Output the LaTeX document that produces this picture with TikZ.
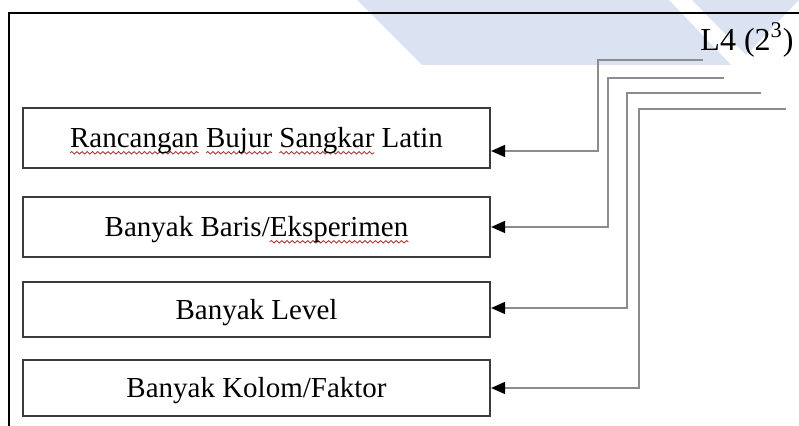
\documentclass[tikz,border=0pt]{standalone}
\usepackage{fontspec}
\setmainfont{Liberation Serif}
\usetikzlibrary{arrows.meta,decorations.pathmorphing}
\definecolor{wm}{RGB}{219,226,242}
\definecolor{squig}{RGB}{170,60,60}
\definecolor{conngray}{RGB}{140,140,140}
\definecolor{boxline}{RGB}{60,60,60}
\newsavebox{\spellbox}
\newcommand\spellwave[1]{\sbox{\spellbox}{#1}\tikz[overlay,baseline=0pt]\draw[squig, line width=0.45pt, decorate, decoration={snake, amplitude=0.6pt, segment length=2.6pt}] (0pt,-2.6pt) -- (\the\wd\spellbox,-2.6pt);\usebox{\spellbox}}
\tikzset{
  stepbox/.style={draw=boxline, line width=1.1pt, minimum width=233.5pt, inner sep=0pt,
    font=\fontsize{14.5}{17}\selectfont, text height=12pt, text depth=2.4pt},
  conn/.style={draw=conngray, line width=0.8pt, -{Triangle[length=7pt,width=6pt,color=black]}},
  frameline/.style={draw=black, line width=1pt}
}
\begin{document}
\begin{tikzpicture}[x=0.5pt,y=-0.5pt]
\useasboundingbox (0,0) rectangle (799,426);
% watermark
\fill[wm] (357,0) -- (669,0) -- (731,65) -- (422,65) -- cycle;
\fill[wm] (692,0) -- (799,0) -- (746,55) -- cycle;
% frame
\draw[frameline] (9,426) -- (9,13) -- (799,13);
% title
\node[font=\fontsize{16}{19}\selectfont, inner sep=0pt] (title) at (747,40) {L4 (2\textsuperscript{3})};
% boxes
\node[stepbox, minimum height=30pt] (b1) at (256.5,138) {\spellwave{Rancangan} \spellwave{Bujur} \spellwave{Sangkar} Latin};
\node[stepbox, minimum height=30pt] (b2) at (256.5,227) {Banyak Baris/\spellwave{Eksperimen}};
\node[stepbox, minimum height=27.5pt] (b3) at (256.5,309.5) {Banyak Level};
\node[stepbox, minimum height=28pt] (b4) at (256.5,388) {Banyak Kolom/Faktor};
% connector points
\coordinate (e1) at (703,60);  \coordinate (c1) at (598,60);
\coordinate (e2) at (724,78);  \coordinate (c2) at (608,78);
\coordinate (e3) at (761,93);  \coordinate (c3) at (627,93);
\coordinate (e4) at (786,109); \coordinate (c4) at (639,109);
% connectors
\draw[conn] (e1) -- (c1) |- ([yshift=-6.5pt]b1.east);
\draw[conn] (e2) -- (c2) |- (b2.east);
\draw[conn] (e3) -- (c3) |- ([yshift=0.75pt]b3.east);
\draw[conn] (e4) -- (c4) |- (b4.east);
\end{tikzpicture}
\end{document}
